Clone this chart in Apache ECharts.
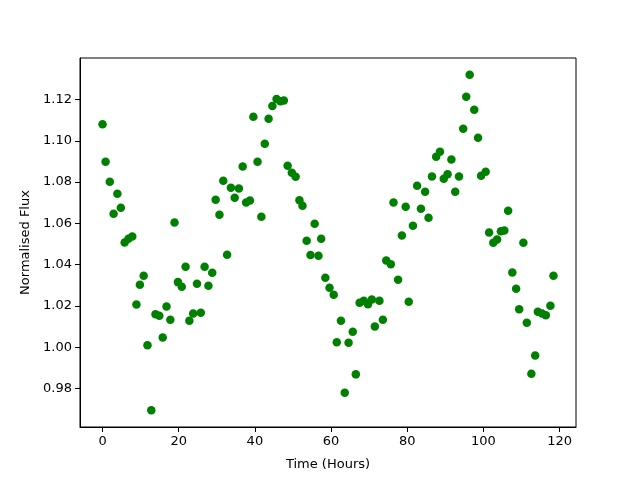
<!DOCTYPE html>
<html>
<head>
<meta charset="utf-8">
<script src="https://cdn.jsdelivr.net/npm/echarts@6/dist/echarts.min.js"></script>
<style>
  html, body { margin: 0; padding: 0; background: #fff; }
  #chart { width: 640px; height: 480px; }
</style>
</head>
<body>
<div id="chart"></div>
<script>
// time of each sample, hours
const timeHours = [
  0.0, 0.8, 1.9, 2.9, 3.9, 4.8, 5.8, 6.8, 7.8, 8.9,
  9.8, 10.8, 11.8, 12.8, 13.9, 14.9, 15.8, 16.8, 17.8, 18.9,
  19.8, 20.8, 21.8, 22.8, 23.8, 24.8, 25.8, 26.8, 27.8, 28.8,
  29.7, 30.7, 31.7, 32.7, 33.7, 34.7, 35.8, 36.8, 37.7, 38.7,
  39.6, 40.7, 41.7, 42.6, 43.6, 44.6, 45.7, 46.7, 47.6, 48.6,
  49.7, 50.7, 51.7, 52.5, 53.6, 54.6, 55.7, 56.7, 57.4, 58.5,
  59.6, 60.7, 61.5, 62.6, 63.6, 64.6, 65.7, 66.5, 67.5, 68.6,
  69.7, 70.7, 71.5, 72.7, 73.6, 74.5, 75.7, 76.4, 77.6, 78.6,
  79.6, 80.4, 81.5, 82.6, 83.6, 84.7, 85.6, 86.5, 87.6, 88.6,
  89.6, 90.6, 91.6, 92.6, 93.6, 94.7, 95.5, 96.4, 97.6, 98.6,
  99.4, 100.6, 101.5, 102.6, 103.6, 104.6, 105.5, 106.5, 107.6, 108.6,
  109.4, 110.5, 111.4, 112.6, 113.6, 114.3, 115.4, 116.4, 117.6, 118.4
];

const flux = [
  1.1080, 1.0898, 1.0801, 1.0646, 1.0743, 1.0675, 1.0507, 1.0525, 1.0536, 1.0207,
  1.0302, 1.0346, 1.0009, 0.9694, 1.0159, 1.0152, 1.0047, 1.0197, 1.0133, 1.0604,
  1.0315, 1.0293, 1.0390, 1.0128, 1.0163, 1.0307, 1.0167, 1.0390, 1.0298, 1.0361,
  1.0714, 1.0642, 1.0806, 1.0448, 1.0772, 1.0724, 1.0769, 1.0875, 1.0701, 1.0711,
  1.1116, 1.0898, 1.0632, 1.0985, 1.1107, 1.1168, 1.1202, 1.1192, 1.1195, 1.0879,
  1.0845, 1.0826, 1.0712, 1.0685, 1.0516, 1.0446, 1.0598, 1.0443, 1.0525, 1.0336,
  1.0288, 1.0254, 1.0024, 1.0128, 0.9779, 1.0021, 1.0075, 0.9868, 1.0215, 1.0225,
  1.0208, 1.0231, 1.0100, 1.0225, 1.0133, 1.0420, 1.0402, 1.0701, 1.0327, 1.0541,
  1.0680, 1.0220, 1.0588, 1.0782, 1.0670, 1.0753, 1.0627, 1.0827, 1.0922, 1.0947,
  1.0816, 1.0838, 1.0909, 1.0753, 1.0827, 1.1058, 1.1213, 1.1320, 1.1150, 1.1014,
  1.0830, 1.0850, 1.0556, 1.0506, 1.0522, 1.0562, 1.0565, 1.0661, 1.0362, 1.0283,
  1.0183, 1.0506, 1.0118, 0.9871, 0.9960, 1.0172, 1.0163, 1.0155, 1.0201, 1.0346
];

const xTicks = [0, 20, 40, 60, 80, 100, 120];
const yTicks = [0.98, 1.00, 1.02, 1.04, 1.06, 1.08, 1.10, 1.12];

const points = timeHours.map((t, i) => [t, flux[i]]);

const chart = echarts.init(document.getElementById('chart'));

const font = 'DejaVu Sans';
const axisCommon = {
  axisLine: { show: true, onZero: false, lineStyle: { color: '#000', width: 1 } },
  axisTick: { show: true, length: 5, lineStyle: { color: '#000', width: 1 } },
  splitLine: { show: false },
  nameLocation: 'middle',
  nameTextStyle: { color: '#000', fontFamily: font, fontSize: 13 }
};

chart.setOption({
  animation: false,
  backgroundColor: '#fff',
  grid: {
    left: 80, right: 64, top: 58, bottom: 53,
    show: true, borderColor: '#000', borderWidth: 1, backgroundColor: 'transparent'
  },
  xAxis: Object.assign({}, axisCommon, {
    type: 'value',
    min: -5.92,
    max: 124.32,
    name: 'Time (Hours)',
    nameGap: 31,
    axisTick: Object.assign({}, axisCommon.axisTick, { customValues: xTicks }),
    axisLabel: {
      customValues: xTicks,
      color: '#000', fontFamily: font, fontSize: 13, margin: 8
    }
  }),
  yAxis: Object.assign({}, axisCommon, {
    type: 'value',
    min: 0.9613,
    max: 1.1401,
    name: 'Normalised Flux',
    nameGap: 46,
    axisTick: Object.assign({}, axisCommon.axisTick, { customValues: yTicks }),
    axisLabel: {
      customValues: yTicks,
      formatter: v => v.toFixed(2),
      color: '#000', fontFamily: font, fontSize: 13, margin: 8
    }
  }),
  series: [{
    type: 'scatter',
    data: points,
    symbol: 'circle',
    symbolSize: 8.5,
    itemStyle: { color: '#008000', opacity: 1 }
  }]
});
</script>
</body>
</html>
